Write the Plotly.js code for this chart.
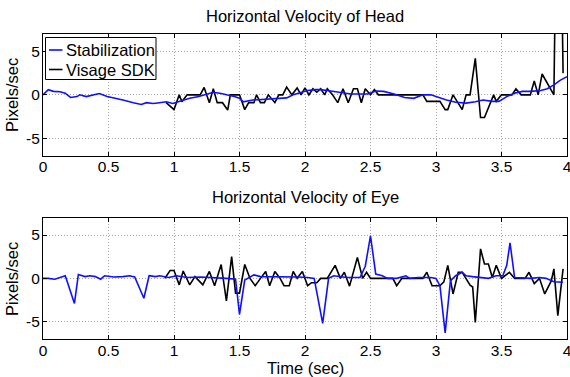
<!DOCTYPE html>
<html>
<head>
<meta charset="utf-8">
<script src="https://cdn.plot.ly/plotly-3.0.1.min.js"></script>
<style>html,body{margin:0;padding:0;background:#fff;}#chart{width:570px;height:377px;}</style>
</head>
<body>
<div id="chart"></div>
<script>
// ---- data (time in seconds, velocity in pixels/sec) ----
var headStabT = [0,0.04,0.08,0.13,0.17,0.21,0.26,0.28,0.33,0.38,0.43,0.49,0.54,0.61,0.69,0.75,0.79,0.84,0.89,0.94,0.99,1.05,1.12,1.19,1.25,1.3,1.36,1.41,1.46,1.5,1.53,1.6,1.67,1.73,1.8,1.86,1.91,1.96,2.02,2.08,2.12,2.17,2.25,2.35,2.42,2.48,2.54,2.6,2.68,2.76,2.83,2.9,2.96,3.03,3.08,3.15,3.23,3.3,3.36,3.43,3.48,3.54,3.6,3.66,3.72,3.8,3.85,3.9,3.95,4.0];
var headStabV = [0,0.6,0.4,0.35,0.2,-0.3,-0.2,0,-0.2,0,0.15,-0.2,-0.4,-0.6,-0.9,-1.1,-0.9,-1.0,-0.9,-0.8,-1.0,-0.7,-0.4,-0.2,0.1,0.3,0.15,0,-0.2,-0.4,-0.8,-0.6,-0.55,-0.5,-0.4,-0.35,0,0.2,0.5,0.6,0.6,0.5,0.3,0.1,0.1,0.1,0.45,0.4,0.1,-0.3,-0.4,0,0,-0.4,-0.6,-0.85,-0.95,-0.8,-0.6,-0.75,-0.75,-0.2,0.2,0.4,0.4,0.5,0.7,1.15,1.7,2.1];

var headSdkT = [0.94,1.0,1.04,1.06,1.1,1.2,1.23,1.27,1.3,1.33,1.37,1.41,1.43,1.5,1.54,1.57,1.61,1.63,1.66,1.69,1.72,1.77,1.8,1.83,1.86,1.9,1.94,1.97,2.0,2.03,2.06,2.09,2.12,2.15,2.17,2.21,2.25,2.29,2.33,2.37,2.4,2.43,2.46,2.5,2.53,2.56,2.61,2.9,2.93,3.03,3.07,3.09,3.13,3.16,3.2,3.23,3.26,3.3,3.34,3.37,3.41,3.44,3.46,3.5,3.58,3.61,3.65,3.72,3.75,3.78,3.81,3.84,3.9,3.935,3.97];
var headSdkV = [-0.9,-1.7,0,-0.8,0,0,0.85,-0.9,0.7,-0.9,-0.9,-1.75,0,0,-1.7,-0.9,-0.9,0,-0.9,-0.9,0,-0.9,0,0,0.9,0,0.8,0,0.8,0,0.7,0.3,0.7,0,0.7,0,-0.9,0.7,-0.9,0.7,0.7,-0.9,0.7,0,0.6,0,0,0,-0.75,-0.75,-1.7,-1.7,0,-0.75,-1.7,0,0,4.2,-2.6,-2.6,-1.0,0,-0.75,0,0,0.7,0,0,1.6,0,2.4,1.6,0,40,2.5];

var eyeStabT = [0,0.04,0.09,0.17,0.24,0.27,0.32,0.36,0.4,0.44,0.47,0.54,0.61,0.66,0.7,0.77,0.81,0.86,0.89,0.96,1.02,1.1,1.2,1.3,1.4,1.47,1.5,1.54,1.61,1.66,1.75,1.85,1.95,2.02,2.07,2.135,2.18,2.22,2.32,2.42,2.46,2.5,2.54,2.59,2.63,2.7,2.77,2.8,2.86,2.96,3.0,3.03,3.07,3.11,3.15,3.2,3.23,3.28,3.34,3.4,3.46,3.51,3.54,3.565,3.6,3.67,3.72,3.79,3.84,3.9,3.97];
var eyeStabV = [0,0,-0.1,0.3,-2.9,0.45,0.2,0.3,0.2,-0.1,0.3,0.15,0.2,0.3,0.15,-2.3,0.3,0.2,0.3,0.1,0.3,0.1,0.15,0.1,0,-0.1,-4.15,-0.2,0.4,0.2,0.2,0.2,0.15,0.1,0,-5.2,0,0.3,0.1,0.1,1.4,4.9,0.5,0.3,0,0,0.3,0,0.1,0.1,0,-0.85,-6.3,-0.3,0.3,0.7,0.3,0.2,0.1,0,0.3,0.3,1.5,4.1,0.1,0,0,0.1,0,-0.4,-0.45];

var eyeSdkT = [0.93,0.97,1.0,1.04,1.07,1.12,1.16,1.22,1.27,1.31,1.36,1.4,1.44,1.47,1.5,1.54,1.58,1.62,1.66,1.7,1.73,1.77,1.81,1.84,1.88,1.91,1.94,1.98,2.02,2.05,2.09,2.12,2.17,2.23,2.27,2.3,2.34,2.4,2.44,2.47,2.5,2.67,2.7,2.74,2.9,2.93,2.97,3.03,3.06,3.09,3.13,3.17,3.2,3.23,3.26,3.28,3.3,3.34,3.37,3.4,3.43,3.46,3.5,3.56,3.6,3.68,3.71,3.75,3.79,3.83,3.88,3.9,3.93,3.97];
var eyeSdkV = [0,0.9,0.9,-0.75,0.85,-0.75,0.2,-0.75,0.8,-0.85,1.6,-2.6,2.5,-1.7,-1.7,1.6,0,-0.85,0,0.8,-0.85,0.8,0,-0.85,-0.85,0.8,0,0.8,-0.85,-0.5,-0.5,0,0,1.5,0,0.7,-0.9,2.4,0,0.7,0,0,-0.85,0,0,0.7,-0.85,-0.85,-0.4,1.5,-1.8,0.7,0.7,0,-0.8,-1.0,-5.1,3.4,1.65,1.65,0.1,1.5,0,0.7,0,0,0.7,-0.6,0,-1.8,-0.3,1.1,-4.3,1.1];

var xTickVals = [0,0.5,1,1.5,2,2.5,3,3.5,4];
var xTickText = ["0","0.5","1","1.5","2","2.5","3","3.5","4"];
var yTickVals = [-5,0,5];
var yTickText = ["-5","0","5"];
var seriesNames = ["Stabilization","Visage SDK"];
var titles = ["Horizontal Velocity of Head","Horizontal Velocity of Eye"];
var xLabel = "Time (sec)";
var yLabel = "Pixels/sec";

// ---- style ----
var FONT = "Liberation Sans, Arial, sans-serif";
var BLUE = "#1010ff", BLACK = "#000000";
var GRIDDASH = "1px,2px";

var traces = [
  {x: headSdkT, y: headSdkV, xaxis: "x", yaxis: "y", mode: "lines", line: {color: BLACK, width: 1.6}, name: seriesNames[1], showlegend: false},
  {x: headStabT, y: headStabV, xaxis: "x", yaxis: "y", mode: "lines", line: {color: BLUE, width: 1.6}, name: seriesNames[0], showlegend: false},
  {x: eyeSdkT, y: eyeSdkV, xaxis: "x2", yaxis: "y2", mode: "lines", line: {color: BLACK, width: 1.6}, name: seriesNames[1], showlegend: false},
  {x: eyeStabT, y: eyeStabV, xaxis: "x2", yaxis: "y2", mode: "lines", line: {color: BLUE, width: 1.6}, name: seriesNames[0], showlegend: false}
];

function xax(anchor) {
  return {anchor: anchor, domain: [0, 1], range: [0, 4], tickvals: xTickVals, ticktext: xTickText,
    showgrid: true, gridcolor: "#a8a8a8", griddash: GRIDDASH, gridwidth: 1, zeroline: false,
    showline: true, linecolor: "#000", linewidth: 1, mirror: "allticks",
    ticks: "inside", ticklen: 4, tickcolor: "#000", ticklabeloverflow: "allow", ticklabelstandoff: -3,
    tickfont: {family: FONT, size: 15.5, color: "#000"}};
}
function yax(anchor, dom) {
  return {anchor: anchor, domain: dom, range: [-7, 7], tickvals: yTickVals, ticktext: yTickText,
    showgrid: true, gridcolor: "#a8a8a8", griddash: GRIDDASH, gridwidth: 1, zeroline: false,
    showline: true, linecolor: "#000", linewidth: 1, mirror: "allticks",
    ticks: "inside", ticklen: 4, tickcolor: "#000", ticklabelstandoff: -1,
    tickfont: {family: FONT, size: 15.5, color: "#000"}};
}

var W = 570, H = 377, ML = 43, MR = 3, MT = 34, MB = 38;
var PW = W - ML - MR, PH = H - MT - MB;
function px(x) { return (x - ML) / PW; }
function py(y) { return (H - MB - y) / PH; }

var annFont = {family: FONT, size: 16.5, color: "#000"};
var layout = {
  width: W, height: H,
  margin: {l: ML, r: MR, t: MT, b: MB, pad: 0},
  paper_bgcolor: "#fff", plot_bgcolor: "#fff",
  showlegend: false,
  xaxis: xax("y"),
  yaxis: yax("x", [py(155.7), 1]),
  xaxis2: xax("y2"),
  yaxis2: yax("x2", [0, py(217.7)]),
  annotations: [
    {text: titles[0], xref: "paper", yref: "paper", x: px(305), y: py(16), xanchor: "center", yanchor: "middle", showarrow: false, font: annFont},
    {text: titles[1], xref: "paper", yref: "paper", x: px(305), y: py(197), xanchor: "center", yanchor: "middle", showarrow: false, font: annFont},
    {text: xLabel, xref: "paper", yref: "paper", x: px(305), y: py(368), xanchor: "center", yanchor: "middle", showarrow: false, font: annFont},
    {text: yLabel, xref: "paper", yref: "paper", x: px(12), y: py(95), xanchor: "center", yanchor: "middle", textangle: -90, showarrow: false, font: annFont},
    {text: yLabel, xref: "paper", yref: "paper", x: px(12), y: py(279), xanchor: "center", yanchor: "middle", textangle: -90, showarrow: false, font: annFont},
    {text: seriesNames[0], xref: "paper", yref: "paper", x: px(63.5), y: py(50), xanchor: "left", yanchor: "middle", showarrow: false, font: annFont},
    {text: seriesNames[1], xref: "paper", yref: "paper", x: px(63.5), y: py(69.5), xanchor: "left", yanchor: "middle", showarrow: false, font: annFont}
  ],
  shapes: [
    {type: "rect", xref: "paper", yref: "paper", x0: px(45.5), x1: px(156), y0: py(79.5), y1: py(37.5), line: {color: "#000", width: 1}, fillcolor: "#fff", layer: "above"},
    {type: "line", xref: "paper", yref: "paper", x0: px(49), x1: px(62.5), y0: py(50), y1: py(50), line: {color: BLUE, width: 1.6}, layer: "above"},
    {type: "line", xref: "paper", yref: "paper", x0: px(49), x1: px(62.5), y0: py(69.5), y1: py(69.5), line: {color: BLACK, width: 1.6}, layer: "above"}
  ]
};

Plotly.newPlot("chart", traces, layout, {displayModeBar: false, staticPlot: true});
</script>
</body>
</html>
